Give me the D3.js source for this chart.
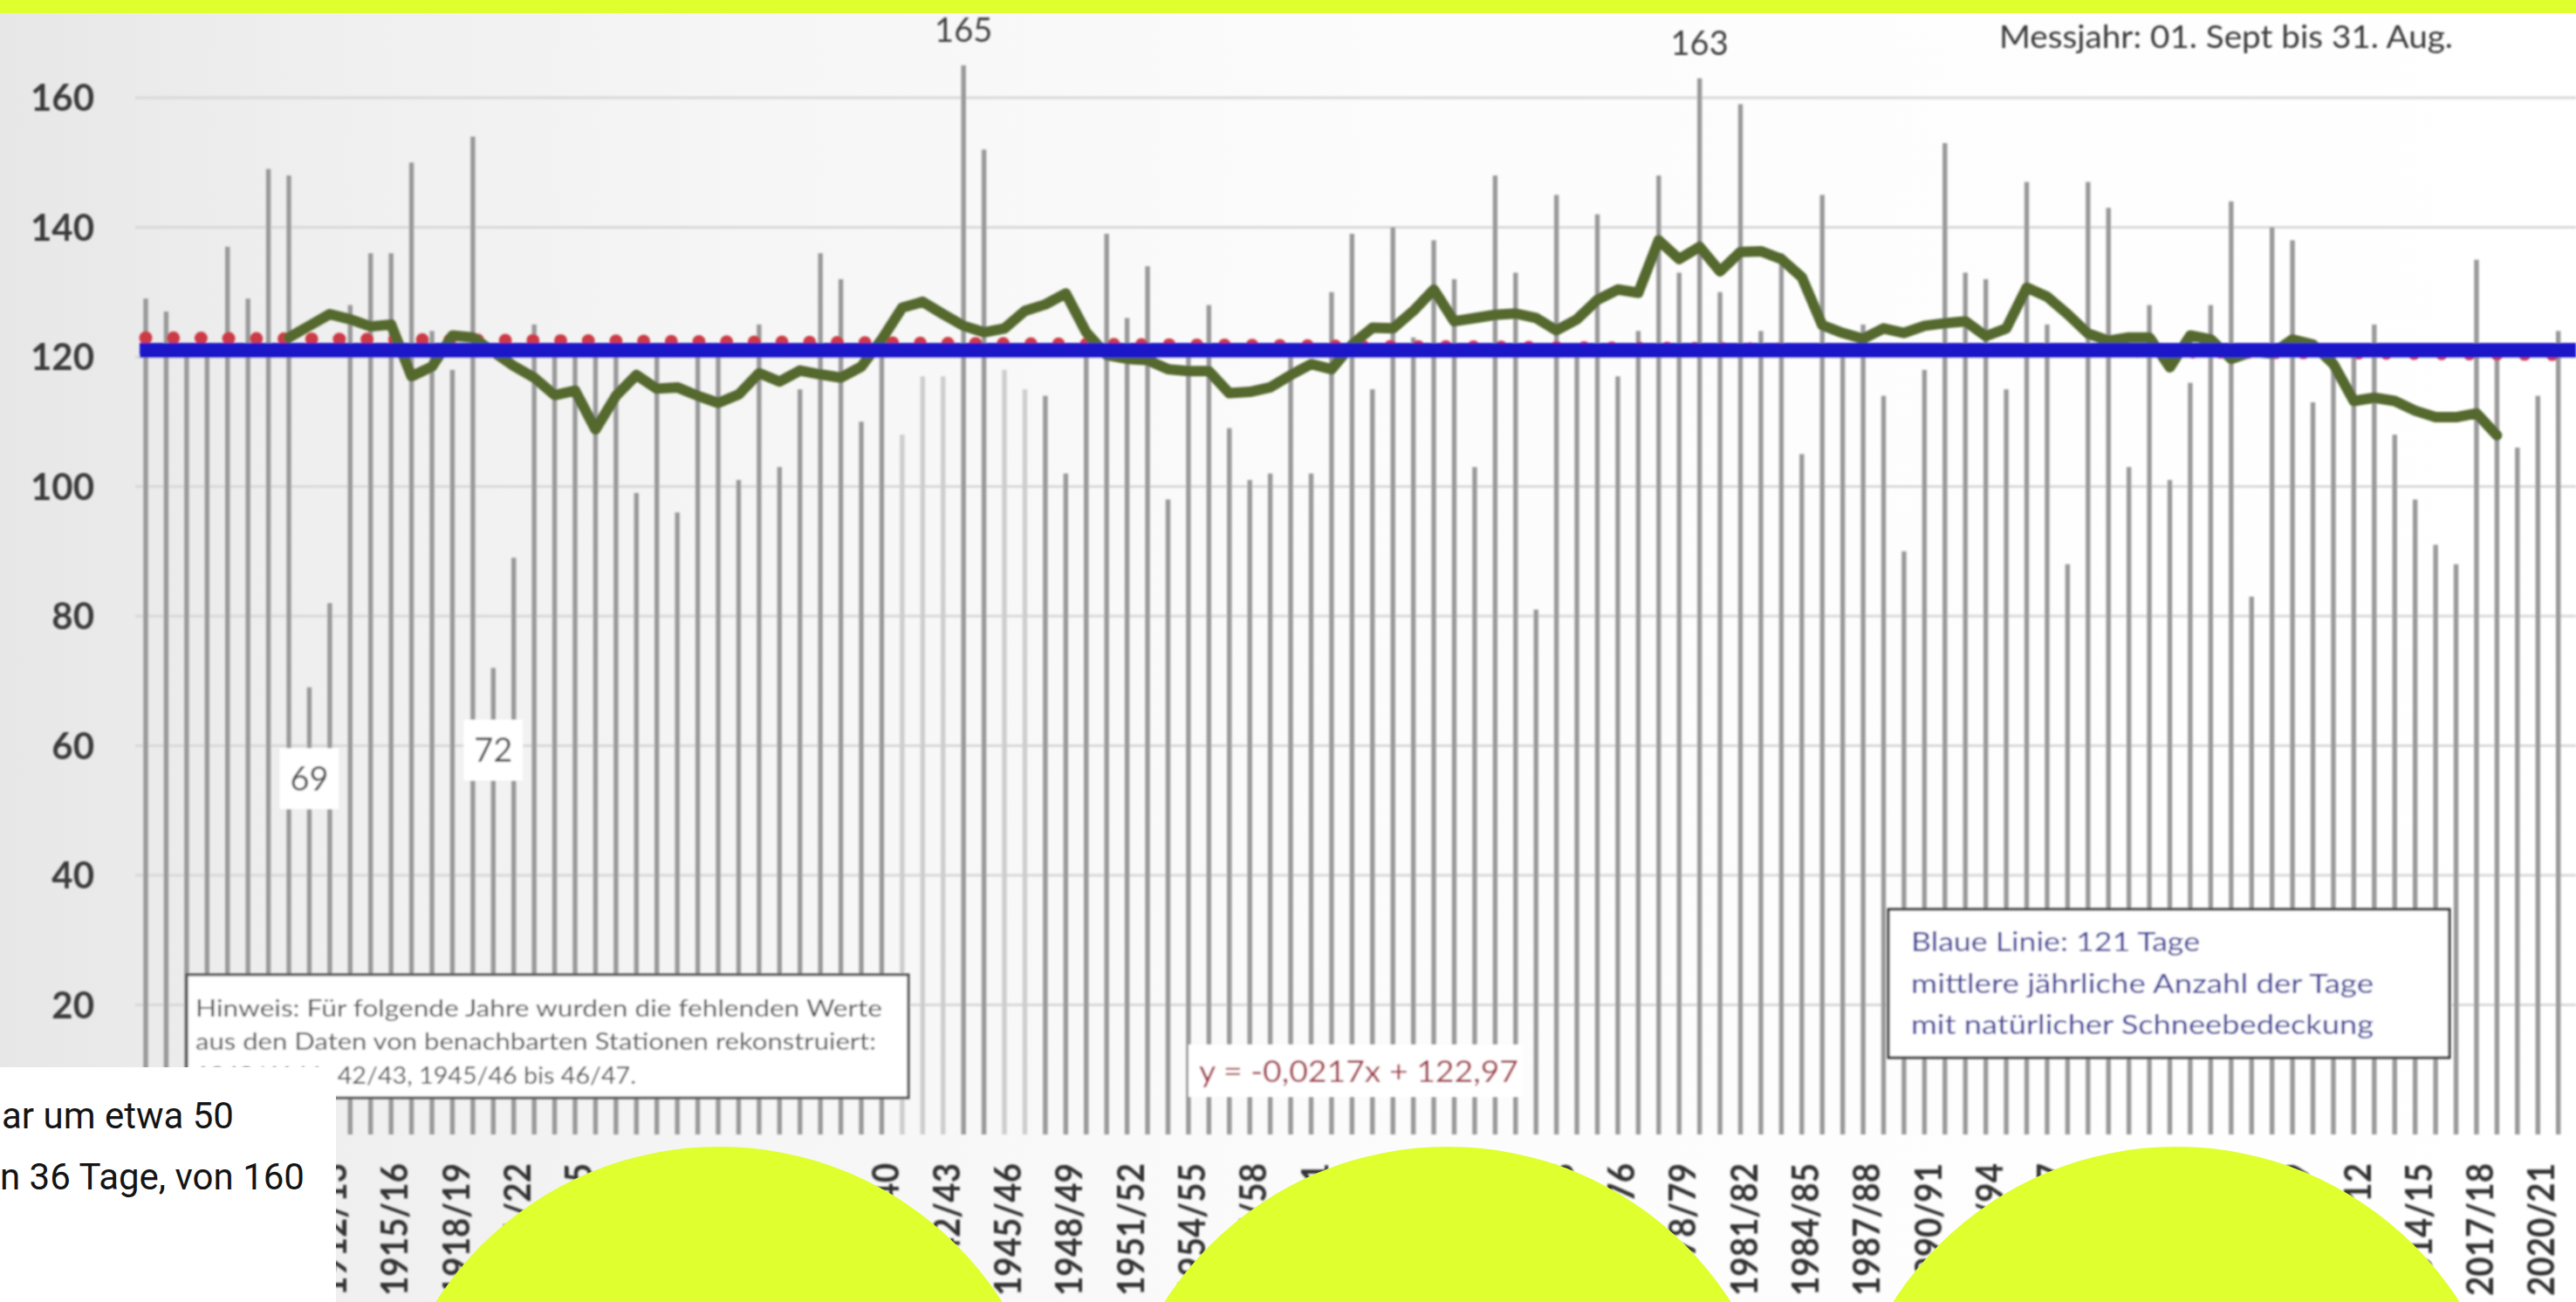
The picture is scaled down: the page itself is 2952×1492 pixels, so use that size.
<!DOCTYPE html>
<html>
<head>
<meta charset="utf-8">
<script src="https://cdn.jsdelivr.net/npm/d3@7"></script>
<style>
  html, body { margin: 0; padding: 0; background: #ffffff; overflow: hidden; }
  svg { display: block; }
</style>
</head>
<body>
<svg id="chart" width="2952" height="1492"></svg>
<script>
// Measuring seasons (1 Sept – 31 Aug)
const seasons = [
  "1903/04","1904/05","1905/06","1906/07","1907/08","1908/09","1909/10","1910/11","1911/12","1912/13",
  "1913/14","1914/15","1915/16","1916/17","1917/18","1918/19","1919/20","1920/21","1921/22","1922/23",
  "1923/24","1924/25","1925/26","1926/27","1927/28","1928/29","1929/30","1930/31","1931/32","1932/33",
  "1933/34","1934/35","1935/36","1936/37","1937/38","1938/39","1939/40","1940/41","1941/42","1942/43",
  "1943/44","1944/45","1945/46","1946/47","1947/48","1948/49","1949/50","1950/51","1951/52","1952/53",
  "1953/54","1954/55","1955/56","1956/57","1957/58","1958/59","1959/60","1960/61","1961/62","1962/63",
  "1963/64","1964/65","1965/66","1966/67","1967/68","1968/69","1969/70","1970/71","1971/72","1972/73",
  "1973/74","1974/75","1975/76","1976/77","1977/78","1978/79","1979/80","1980/81","1981/82","1982/83",
  "1983/84","1984/85","1985/86","1986/87","1987/88","1988/89","1989/90","1990/91","1991/92","1992/93",
  "1993/94","1994/95","1995/96","1996/97","1997/98","1998/99","1999/00","2000/01","2001/02","2002/03",
  "2003/04","2004/05","2005/06","2006/07","2007/08","2008/09","2009/10","2010/11","2011/12","2012/13",
  "2013/14","2014/15","2015/16","2016/17","2017/18","2018/19","2019/20","2020/21","2021/22"
];

// Days with natural snow cover per season
const snowDays = [
  129, 127, 122, 121, 137, 129, 149, 148,  69,  82,
  128, 136, 136, 150, 124, 118, 154,  72,  89, 125,
  121, 120, 122, 120,  99, 121,  96, 122, 120, 101,
  125, 103, 115, 136, 132, 110, 121, 108, 117, 117,
  165, 152, 118, 115, 114, 102, 123, 139, 126, 134,
   98, 120, 128, 109, 101, 102, 121, 102, 130, 139,
  115, 140, 123, 138, 132, 103, 148, 133,  81, 145,
  122, 142, 117, 124, 148, 133, 163, 130, 159, 124,
  136, 105, 145, 122, 125, 114,  90, 118, 153, 133,
  132, 115, 147, 125,  88, 147, 143, 103, 128, 101,
  116, 128, 144,  83, 140, 138, 113, 121, 121, 125,
  108,  98,  91,  88, 135, 120, 106, 114, 124
];

// Seasons whose values were reconstructed from neighbouring stations
const reconstructed = ["1940/41", "1941/42", "1942/43", "1945/46", "1946/47"];

// Moving average, from 1910/11 to 2018/19
const movingAvgFrom = "1910/11";
const movingAvg = [
  123.0, 124.8, 126.6, 125.8, 124.7, 125.0, 117.0, 118.5, 123.3, 123.0,
  120.8, 118.6, 116.8, 114.1, 114.8, 108.8, 114.0, 117.2, 115.1, 115.3,
  114.0, 112.9, 114.2, 117.5, 116.2, 117.9, 117.3, 116.8, 118.5, 122.7,
  127.6, 128.5, 126.6, 124.8, 123.8, 124.4, 127.1, 128.1, 129.8, 123.8,
  120.3, 119.7, 119.5, 118.1, 117.8, 117.8, 114.4, 114.6, 115.3, 117.2,
  118.9, 118.1, 121.9, 124.5, 124.4, 127.1, 130.4, 125.5, 126.0, 126.5,
  126.7, 126.0, 124.1, 125.8, 128.8, 130.4, 129.9, 138.0, 135.1, 137.0,
  133.2, 136.2, 136.3, 135.1, 132.3, 124.9, 123.7, 122.8, 124.4, 123.7,
  124.8, 125.2, 125.5, 123.2, 124.4, 130.7, 129.3, 126.6, 123.6, 122.5,
  123.0, 123.0, 118.4, 123.3, 122.7, 119.7, 120.8, 120.5, 122.7, 121.9,
  118.9, 113.2, 113.7, 113.2, 111.7, 110.7, 110.7, 111.3, 107.9
];

// Linear trend y = -0,0217x + 122,97 (x = running season number)
const trendSlope = -0.0217;
const trendIntercept = 122.97;
const meanDays = 121;

const yTicks = [20, 40, 60, 80, 100, 120, 140, 160];

// Seasons with a printed value label
const valueLabelsTop = ["1943/44", "1979/80"];
const valueLabelsBoxed = [
  { season: "1911/12", at: 54.9 },
  { season: "1920/21", at: 59.3 }
];

// ---------------------------------------------------------------
const W = 2952, H = 1492;
const svg = d3.select("#chart");
const defs = svg.append("defs");

const bg = defs.append("linearGradient").attr("id", "bg")
  .attr("x1", 0).attr("x2", 1).attr("y1", 0).attr("y2", 0);
bg.append("stop").attr("offset", "0").attr("stop-color", "#e7e7e7");
bg.append("stop").attr("offset", "0.12").attr("stop-color", "#efefef");
bg.append("stop").attr("offset", "0.3").attr("stop-color", "#f6f6f6");
bg.append("stop").attr("offset", "0.55").attr("stop-color", "#fcfcfc");
bg.append("stop").attr("offset", "1").attr("stop-color", "#ffffff");

defs.append("filter").attr("id", "soft")
  .attr("x", "-1%").attr("y", "-1%").attr("width", "102%").attr("height", "102%")
  .append("feGaussianBlur").attr("stdDeviation", 0.9);

svg.append("rect").attr("width", W).attr("height", H).attr("fill", "url(#bg)");

const x = d3.scalePoint().domain(seasons).range([167, 2931.7]);
const y = d3.scaleLinear().domain([0, 160]).range([1300, 112]);

const chart = svg.append("g").attr("filter", "url(#soft)");
const font = "Lato, 'Open Sans', sans-serif";

// gridlines
chart.append("g").selectAll("line")
  .data(yTicks)
  .join("line")
  .attr("x1", 155).attr("x2", W)
  .attr("y1", d => y(d)).attr("y2", d => y(d))
  .attr("stroke", "#d8d8d8").attr("stroke-width", 3);

// bars
const rows = seasons.map((s, i) => ({ season: s, value: snowDays[i], idx: i }));
chart.append("g").selectAll("rect")
  .data(rows)
  .join("rect")
  .attr("x", d => x(d.season) - 2.7)
  .attr("width", 5.4)
  .attr("y", d => y(d.value))
  .attr("height", d => y(0) - y(d.value))
  .attr("fill", d => reconstructed.includes(d.season) ? "#cdcdcd" : "#999999");

// linear trend (dotted red)
const trendLine = d3.line()
  .x(d => x(d.season))
  .y(d => y(trendSlope * (d.idx + 1) + trendIntercept));
chart.append("path")
  .attr("d", trendLine(rows))
  .attr("fill", "none")
  .attr("stroke", "#cc3a44")
  .attr("stroke-width", 15)
  .attr("stroke-linecap", "round")
  .attr("stroke-dasharray", "0 31.7");

// moving average (green)
const maStart = seasons.indexOf(movingAvgFrom);
const maRows = movingAvg.map((v, k) => ({ season: seasons[maStart + k], value: v }));
chart.append("path")
  .attr("d", d3.line().x(d => x(d.season)).y(d => y(d.value))(maRows))
  .attr("fill", "none")
  .attr("stroke", "#55692e")
  .attr("stroke-width", 12)
  .attr("stroke-linejoin", "round")
  .attr("stroke-linecap", "round");

// mean line (blue)
chart.append("line")
  .attr("x1", 160).attr("x2", W)
  .attr("y1", y(meanDays)).attr("y2", y(meanDays))
  .attr("stroke", "#1f17c9").attr("stroke-width", 17);

// y axis labels
chart.append("g").selectAll("text")
  .data(yTicks)
  .join("text")
  .attr("x", 108).attr("y", d => y(d))
  .attr("dy", "0.36em")
  .attr("text-anchor", "end")
  .attr("font-family", font).attr("font-weight", 700).attr("font-size", 42)
  .attr("fill", "#3b3b3b")
  .text(d => d);

// x axis labels, every third season
chart.append("g").selectAll("text")
  .data(seasons.filter((s, i) => i % 3 === 0))
  .join("text")
  .attr("transform", d => `translate(${x(d) + 4},1333) rotate(-90)`)
  .attr("dy", "0.36em")
  .attr("text-anchor", "end")
  .attr("font-family", font).attr("font-weight", 700).attr("font-size", 42)
  .attr("textLength", 152).attr("lengthAdjust", "spacingAndGlyphs")
  .attr("fill", "#333333")
  .text(d => d);

// value labels above the two highest bars
chart.append("g").selectAll("text")
  .data(valueLabelsTop)
  .join("text")
  .attr("x", d => x(d))
  .attr("y", d => y(snowDays[seasons.indexOf(d)]) - 27)
  .attr("text-anchor", "middle")
  .attr("font-family", font).attr("font-size", 38)
  .attr("fill", "#404040")
  .text(d => snowDays[seasons.indexOf(d)]);

// boxed value labels for the two lowest bars
const boxed = chart.append("g").selectAll("g")
  .data(valueLabelsBoxed)
  .join("g")
  .attr("transform", d => `translate(${x(d.season)},${y(d.at)})`);
boxed.append("rect")
  .attr("x", -34).attr("y", -35).attr("width", 68).attr("height", 70)
  .attr("fill", "#ffffff");
boxed.append("text")
  .attr("text-anchor", "middle").attr("dy", "0.36em")
  .attr("font-family", font).attr("font-size", 38)
  .attr("fill", "#505050")
  .text(d => snowDays[seasons.indexOf(d.season)]);

// measuring year note
chart.append("text")
  .attr("x", 2291).attr("y", 55)
  .attr("font-family", font).attr("font-size", 36)
  .attr("textLength", 520).attr("lengthAdjust", "spacingAndGlyphs")
  .attr("fill", "#3a3a3a")
  .text("Messjahr: 01. Sept bis 31. Aug.");

// reconstruction note
const note = chart.append("g");
note.append("rect")
  .attr("x", 214).attr("y", 1117).attr("width", 827).attr("height", 141)
  .attr("fill", "#ffffff").attr("stroke", "#4d4d4d").attr("stroke-width", 3);
const noteLines = [
  { t: "Hinweis: Für folgende Jahre wurden die fehlenden Werte", y: 1165, w: 787 },
  { t: "aus den Daten von benachbarten Stationen rekonstruiert:", y: 1203, w: 780 },
  { t: "1940/41 bis 42/43, 1945/46 bis 46/47.", y: 1242, w: 505 }
];
note.selectAll("text")
  .data(noteLines)
  .join("text")
  .attr("x", 224).attr("y", d => d.y)
  .attr("font-family", font).attr("font-size", 26)
  .attr("textLength", d => d.w).attr("lengthAdjust", "spacingAndGlyphs")
  .attr("fill", "#555555")
  .text(d => d.t);

// trend equation
chart.append("rect")
  .attr("x", 1362).attr("y", 1197).attr("width", 382).attr("height", 60)
  .attr("fill", "#ffffff");
chart.append("text")
  .attr("x", 1374).attr("y", 1240)
  .attr("font-family", font).attr("font-size", 34)
  .attr("textLength", 366).attr("lengthAdjust", "spacingAndGlyphs")
  .attr("fill", "#a33a48")
  .text("y = -0,0217x + 122,97");

// mean line legend
const legend = chart.append("g");
legend.append("rect")
  .attr("x", 2164).attr("y", 1042).attr("width", 643).attr("height", 170)
  .attr("fill", "#ffffff").attr("stroke", "#333333").attr("stroke-width", 3);
const legendLines = [
  { t: `Blaue Linie: ${meanDays} Tage`, y: 1090, w: 331 },
  { t: "mittlere jährliche Anzahl der Tage", y: 1138, w: 530 },
  { t: "mit natürlicher Schneebedeckung", y: 1185, w: 530 }
];
legend.selectAll("text")
  .data(legendLines)
  .join("text")
  .attr("x", 2190).attr("y", d => d.y)
  .attr("font-family", font).attr("font-size", 30)
  .attr("textLength", d => d.w).attr("lengthAdjust", "spacingAndGlyphs")
  .attr("fill", "#3c3c96")
  .text(d => d.t);

// ---------------------------------------------------------------
// page decoration around the chart
const lime = "#dfff2e";
svg.append("rect").attr("x", 0).attr("y", 0).attr("width", W).attr("height", 15).attr("fill", lime);
svg.append("g").selectAll("circle")
  .data([824, 1659, 2494])
  .join("circle")
  .attr("cx", d => d).attr("cy", 1699).attr("r", 385)
  .attr("fill", lime);

svg.append("rect").attr("x", 0).attr("y", 1223).attr("width", 385).attr("height", 269).attr("fill", "#ffffff");
svg.append("g").selectAll("text")
  .data([{ t: "ar um etwa 50", x: 2, y: 1293 }, { t: "n 36 Tage, von 160", x: 0, y: 1363 }])
  .join("text")
  .attr("x", d => d.x).attr("y", d => d.y)
  .attr("font-family", "Roboto, sans-serif").attr("font-size", 42)
  .attr("fill", "#141414")
  .text(d => d.t);
</script>
</body>
</html>
